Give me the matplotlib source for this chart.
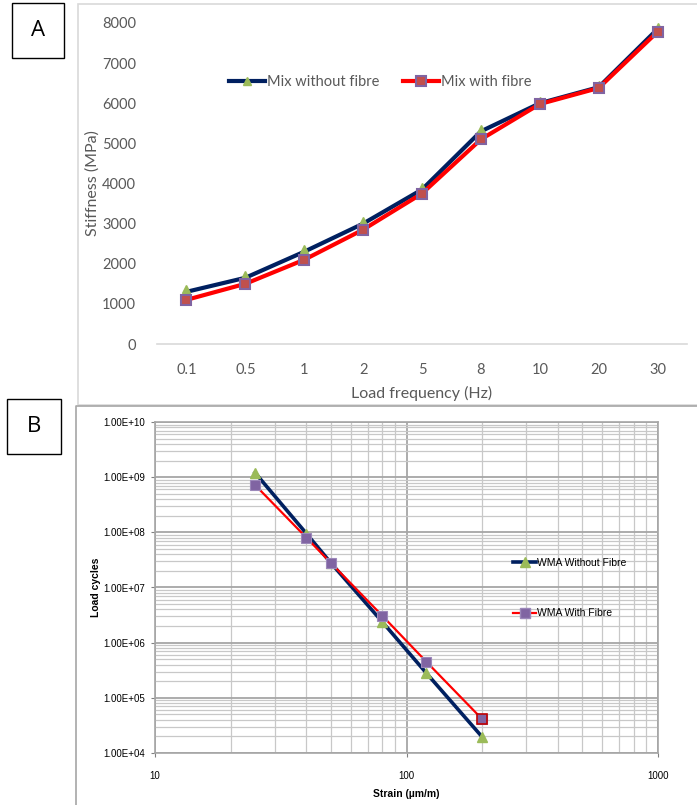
import matplotlib
matplotlib.use("Agg")
import matplotlib.pyplot as plt
from matplotlib.patches import Rectangle
from matplotlib.lines import Line2D
from matplotlib.ticker import FuncFormatter, LogLocator, NullFormatter

# Panel A: stiffness vs load frequency
freq_labels = ["0.1", "0.5", "1", "2", "5", "8", "10", "20", "30"]
stiff_without = [1300, 1650, 2300, 3000, 3850, 5300, 6000, 6400, 7850]
stiff_with = [1100, 1500, 2100, 2850, 3750, 5100, 5980, 6380, 7780]

# Panel B: fatigue life vs strain
strain = [25, 40, 50, 80, 120, 200]
cycles_without = [1.2e9, 9.5e7, 2.8e7, 2.4e6, 2.8e5, 1.95e4]
cycles_with = [7.2e8, 8.0e7, 2.8e7, 3.1e6, 4.5e5, 4.1e4]

NAVY = "#002060"
RED = "#FF0000"
GREEN = "#9BBB59"
PURPLE = "#8064A2"
BRICK = "#C0504D"
GREY = "#595959"

W, H = 697, 805
fig = plt.figure(figsize=(W / 100, H / 100), dpi=100)


def fx(px):
    return px / W


def fy(py):
    return 1 - py / H


# outer frames and panel letters
fig.patches.append(Rectangle((fx(78), fy(405)), fx(640), fy(4) - fy(405),
                             transform=fig.transFigure, fill=False,
                             edgecolor="#D9D9D9", lw=1.2))
fig.add_artist(Line2D([fx(76), fx(76), fx(697)], [fy(805), fy(406), fy(406)],
                      transform=fig.transFigure, color="#A6A6A6", lw=1.2))
for letter, (x0, y0, x1, y1) in [("A", (12, 3, 64, 58)), ("B", (7, 399, 61, 454))]:
    fig.patches.append(Rectangle((fx(x0), fy(y1)), fx(x1 - x0), fy(y0) - fy(y1),
                                 transform=fig.transFigure, fill=False,
                                 edgecolor="black", lw=1.0))
    fig.text(fx((x0 + x1) / 2), fy((y0 + y1) / 2), letter, ha="center", va="center",
             fontsize=16, family=["Open Sans", "DejaVu Sans"])

# ---- Panel A ----
calib = ["Lato", "DejaVu Sans"]
axA = fig.add_axes([fx(157), fy(344), fx(530), fy(23) - fy(344)])
xs = list(range(len(freq_labels)))
axA.plot(xs, stiff_without, color=NAVY, lw=3.0, zorder=3)
axA.plot(xs, stiff_with, color=RED, lw=3.0, zorder=3)
axA.plot(xs, [v + 60 for v in stiff_without], ls="none", marker="^", ms=6,
         color=GREEN, zorder=4)
axA.plot(xs, stiff_with, ls="none", marker="s", ms=7, mfc=BRICK,
         mec=PURPLE, mew=1.5, zorder=5)
axA.set_xlim(-0.5, len(freq_labels) - 0.5)
axA.set_ylim(0, 8000)
axA.set_xticks(xs)
axA.set_xticklabels(freq_labels)
axA.set_yticks(range(0, 8001, 1000))
for s in ["top", "right", "left"]:
    axA.spines[s].set_visible(False)
axA.spines["bottom"].set_color("#D9D9D9")
axA.spines["bottom"].set_linewidth(1.2)
axA.tick_params(length=0, labelsize=10.5, colors=GREY)
axA.tick_params(axis="x", pad=14)
axA.tick_params(axis="y", pad=15)
for lab in axA.get_xticklabels() + axA.get_yticklabels():
    lab.set_family(calib)
axA.set_xlabel("Load frequency (Hz)", fontsize=11.5, color=GREY, family=calib,
               labelpad=6)
axA.set_ylabel("Stiffness (MPa)", fontsize=11.5, color=GREY, family=calib,
               labelpad=2)

hA = [Line2D([], [], color=NAVY, lw=3, marker="^", ms=6, mfc=GREEN, mec=GREEN),
      Line2D([], [], color=RED, lw=3, marker="s", ms=7, mfc=BRICK, mec=PURPLE, mew=1.5)]
axA.legend(hA, ["Mix without fibre", "Mix with fibre"], ncol=2, frameon=False,
           loc="center", bbox_to_anchor=(fx(380), fy(82)),
           bbox_transform=fig.transFigure, handlelength=2.5, handletextpad=0.1,
           columnspacing=1.6, prop={"family": calib, "size": 10.5},
           labelcolor=GREY)

# ---- Panel B ----
narrow = ["Liberation Sans", "DejaVu Sans"]
axB = fig.add_axes([fx(155), fy(753), fx(503), fy(422) - fy(753)])
axB.set_xscale("log")
axB.set_yscale("log")
axB.set_xlim(10, 1000)
axB.set_ylim(1e4, 1e10)
axB.plot(strain, cycles_without, color=NAVY, lw=2.6, zorder=3)
axB.plot(strain, cycles_with, color=RED, lw=1.6, zorder=3)
axB.plot(strain, cycles_without, ls="none", marker="^", ms=7, color=GREEN, zorder=4)
axB.plot(strain, cycles_with, ls="none", marker="s", ms=7.5, mfc=PURPLE,
         mec="#9C88BA", mew=0.8, zorder=5)
axB.plot(strain[-1:], cycles_with[-1:], ls="none", marker="s", ms=7.5, mfc=PURPLE,
         mec="#C00000", mew=1.2, zorder=6)

axB.xaxis.set_major_locator(LogLocator(base=10, numticks=10))
axB.xaxis.set_minor_locator(LogLocator(base=10, subs=range(2, 10), numticks=20))
axB.yaxis.set_major_locator(LogLocator(base=10, numticks=12))
axB.yaxis.set_minor_locator(LogLocator(base=10, subs=range(2, 10), numticks=30))
axB.xaxis.set_major_formatter(FuncFormatter(lambda v, p: f"{v:.0f}"))
axB.yaxis.set_major_formatter(FuncFormatter(lambda v, p: f"{v:.2E}"))
axB.xaxis.set_minor_formatter(NullFormatter())
axB.yaxis.set_minor_formatter(NullFormatter())
axB.grid(True, which="major", color="#A6A6A6", lw=1.3)
axB.grid(True, which="minor", color="#C8C8C8", lw=0.9)
axB.set_axisbelow(True)
for s in axB.spines.values():
    s.set_color("#A6A6A6")
    s.set_linewidth(1.2)
axB.tick_params(which="major", length=3, color="#808080", labelsize=7,
                colors="black")
axB.tick_params(which="minor", length=0)
axB.tick_params(axis="x", pad=10)
axB.tick_params(axis="y", pad=4)
for lab in axB.get_xticklabels() + axB.get_yticklabels():
    lab.set_family(narrow)
axB.set_xlabel("Strain (\u00b5m/m)", fontsize=7.5, fontweight="bold", family=narrow,
               labelpad=6)
axB.set_ylabel("Load cycles", fontsize=7.5, fontweight="bold", family=narrow,
               labelpad=2)

hB = [Line2D([], [], color=NAVY, lw=2.6, marker="^", ms=7, mfc=GREEN, mec=GREEN),
      Line2D([], [], color=RED, lw=1.6, marker="s", ms=7, mfc=PURPLE, mec="#9C88BA")]
axB.legend(hB, ["WMA Without Fibre", "WMA With Fibre"], frameon=False,
           loc="center left", bbox_to_anchor=(fx(508), fy(588)),
           bbox_transform=fig.transFigure, handlelength=2.2, handletextpad=0.1,
           labelspacing=3.9, borderpad=0, prop={"family": narrow, "size": 7.5})

fig.savefig("out.png", dpi=100)
